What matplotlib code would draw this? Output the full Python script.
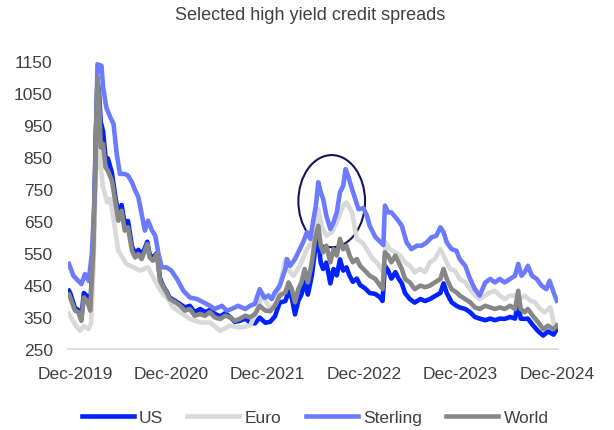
import matplotlib
matplotlib.use("Agg")
import matplotlib.pyplot as plt
from matplotlib.patches import Ellipse

plt.rcParams['font.family'] = ['Liberation Sans', 'DejaVu Sans']

# x positions are months after Dec-2019, values in bp
us_x = [-0.75, -0.6, 0, 0.4, 0.8, 1.1, 1.5, 1.9, 2.3, 2.6, 2.8, 3.0, 3.2, 3.5, 3.8, 4.1, 4.6, 5.0, 5.4, 5.8,
        6.2, 6.6, 7.1, 7.5, 7.9, 8.3, 8.7, 9.0, 9.3, 9.7, 10.2, 10.6, 11.0, 11.4, 11.8, 12.5, 13.1, 13.7, 14.3,
        14.9, 15.6, 16.2, 16.8, 17.4, 18.1, 18.7, 19.3, 19.9, 20.5, 21.2, 21.8, 22.4, 23.0, 23.7, 24.3, 24.9,
        25.5, 26.2, 26.6, 27.0, 27.4, 27.8, 28.2, 28.6, 29.0, 29.5, 29.9, 30.3, 30.6, 30.9, 31.3, 31.8, 32.2,
        32.6, 33.0, 33.4, 33.8, 34.2, 34.6, 35.1, 35.5, 36.1, 36.7, 37.4, 38.0, 38.3, 38.6, 39.0, 39.4, 39.9,
        40.3, 40.7, 41.1, 41.7, 42.3, 43.0, 43.6, 44.2, 44.8, 45.5, 45.9, 46.3, 46.9, 47.5, 47.9, 48.6, 49.2,
        49.8, 50.4, 51.1, 51.7, 52.3, 52.9, 53.5, 54.2, 54.8, 55.2, 55.5, 56.0, 56.4, 57.0, 57.7, 58.3, 58.9,
        59.6, 60.0]
us = [432, 425, 378, 372, 350, 425, 415, 380, 580, 930, 1090, 1050, 960, 930, 850, 845, 800, 730, 670, 700,
      640, 650, 570, 548, 560, 545, 565, 585, 545, 535, 550, 470, 445, 430, 410, 400, 390, 380, 385,
      365, 375, 365, 372, 360, 352, 362, 350, 335, 338, 345, 333, 330, 348, 332, 335, 352,
      395, 400, 430, 410, 358, 400, 420, 460, 420, 480, 560, 590, 520, 500, 520, 455, 500,
      480, 530, 495, 505, 479, 460, 470, 450, 440, 425, 422, 411, 400, 510, 495, 470, 490,
      470, 455, 425, 406, 395, 406, 400, 406, 415, 425, 455, 425, 396, 385, 380, 375, 365,
      350, 345, 340, 345, 340, 345, 344, 350, 345, 400, 345, 344, 345, 325, 305, 292, 305,
      295, 312]

euro_x = [-0.75, -0.4, 0.2, 0.6, 1.1, 1.7, 2.0, 2.3, 2.6, 2.9, 3.2, 3.5, 4.0, 4.4, 4.9, 5.4, 6.4, 7.3, 8.1,
          9.1, 9.6, 10.4, 11.0, 11.6, 12.2, 13.1, 14.3, 15.6, 16.8, 18.1, 19.3, 20.5, 21.8, 22.6, 23.0, 23.4,
          24.3, 25.1, 26.2, 26.8, 27.2, 28.0, 28.9, 29.7, 30.3, 30.7, 31.3, 32.0, 32.6, 33.4, 33.8, 34.5,
          35.1, 35.9, 36.5, 37.1, 37.6, 38.4, 38.7, 39.2, 39.9, 40.5, 41.1, 41.7, 42.3, 43.0, 43.6, 44.2,
          44.8, 45.5, 46.1, 46.7, 47.3, 47.9, 48.6, 49.2, 49.8, 50.4, 51.1, 51.7, 52.3, 52.9, 53.5, 54.2,
          54.8, 55.4, 56.0, 56.7, 57.3, 57.9, 58.5, 59.2, 59.6, 60.0]
euro = [360, 344, 320, 307, 322, 312, 330, 500, 800, 901, 820, 755, 708, 719, 640, 557, 516, 505, 495,
        505, 480, 443, 420, 406, 380, 365, 344, 333, 333, 307, 323, 317, 323, 365, 396, 417,
        375, 396, 531, 490, 479, 510, 562, 594, 687, 635, 604, 615, 646, 698, 708, 677,
        594, 580, 555, 531, 521, 490, 583, 562, 552, 542, 521, 510, 490, 500, 490, 521,
        531, 562, 531, 500, 495, 469, 458, 437, 417, 406, 417, 427, 432, 417, 406, 417,
        417, 406, 417, 401, 396, 375, 365, 380, 333, 323]

sterling_x = [-0.75, -0.2, 0.4, 0.8, 1.25, 1.7, 2.1, 2.5, 2.8, 3.3, 3.5, 3.9, 4.4, 4.8, 5.2, 5.6, 6.2, 6.6,
              7.1, 7.5, 7.9, 8.3, 8.7, 9.1, 9.6, 10.0, 10.4, 10.8, 11.4, 12.0, 12.7, 13.5, 14.3, 15.2, 16.0,
              16.8, 17.4, 18.3, 18.9, 19.5, 20.3, 21.2, 21.8, 22.4, 23.0, 23.6, 24.1, 24.5, 24.9, 25.5, 26.2,
              26.4, 26.8, 27.4, 27.8, 28.4, 28.9, 29.3, 29.7, 30.0, 30.3, 30.6, 30.9, 31.3, 31.8, 32.2, 32.6,
              33.0, 33.4, 33.7, 34.0, 34.5, 34.9, 35.3, 35.9, 36.3, 36.7, 37.4, 38.0, 38.4, 38.6, 39.0, 39.4,
              40.1, 40.7, 41.3, 41.9, 42.6, 43.2, 43.8, 44.4, 45.0, 45.5, 45.9, 46.3, 46.9, 47.5, 47.9, 48.6,
              49.2, 49.8, 50.4, 51.1, 51.7, 52.3, 52.9, 53.5, 54.2, 54.8, 55.2, 55.6, 56.0, 56.4, 56.9, 57.5,
              58.1, 58.7, 59.1, 59.6, 60.0]
sterling = [516, 479, 463, 453, 484, 463, 547, 756, 1140, 1135, 1068, 1005, 974, 953, 859, 797, 797, 792,
            771, 745, 724, 672, 620, 651, 620, 604, 547, 505, 505, 495, 469, 432, 411, 406, 396,
            385, 375, 385, 370, 375, 385, 375, 385, 391, 437, 410, 417, 406, 427, 448, 500,
            531, 510, 531, 552, 583, 615, 594, 656, 698, 771, 740, 719, 667, 625, 646, 677,
            740, 760, 812, 792, 750, 719, 687, 690, 670, 635, 600, 585, 575, 698, 677, 677,
            656, 635, 583, 562, 573, 573, 583, 599, 604, 630, 615, 583, 562, 557, 531, 510,
            469, 437, 417, 458, 469, 458, 469, 458, 469, 479, 516, 479, 490, 510, 479, 469,
            448, 437, 463, 427, 401]

world_x = [-0.75, -0.6, 0, 0.4, 0.8, 1.1, 1.5, 1.9, 2.3, 2.6, 2.8, 3.0, 3.2, 3.5, 3.8, 4.1, 4.6, 5.0, 5.4,
           5.8, 6.2, 6.6, 7.1, 7.5, 7.9, 8.3, 8.7, 9.0, 9.3, 9.7, 10.2, 10.6, 11.0, 11.4, 11.8, 12.5, 13.1,
           13.7, 14.3, 14.9, 15.6, 16.2, 16.8, 17.4, 18.1, 18.7, 19.3, 19.9, 20.5, 21.2, 21.8, 22.4, 23.0,
           23.7, 24.3, 24.9, 25.5, 26.2, 26.6, 27.0, 27.4, 27.8, 28.2, 28.6, 29.0, 29.5, 29.9, 30.3, 30.6,
           30.9, 31.3, 31.8, 32.2, 32.6, 33.0, 33.4, 33.8, 34.2, 34.6, 35.1, 35.5, 36.1, 36.7, 37.4, 38.0,
           38.3, 38.6, 39.0, 39.4, 39.9, 40.3, 40.7, 41.1, 41.7, 42.3, 43.0, 43.6, 44.2, 44.8, 45.5, 45.9,
           46.3, 46.9, 47.5, 47.9, 48.6, 49.2, 49.8, 50.4, 51.1, 51.7, 52.3, 52.9, 53.5, 54.2, 54.8, 55.2,
           55.5, 56.0, 56.4, 57.0, 57.7, 58.3, 58.9, 59.6, 60.0]
world = [420, 411, 370, 365, 338, 411, 401, 370, 568, 911, 1099, 1026, 880, 891, 818, 807, 776, 713, 651,
         682, 620, 630, 557, 536, 547, 531, 557, 578, 536, 526, 547, 463, 443, 427, 406, 396, 385,
         370, 375, 354, 359, 354, 365, 349, 344, 354, 349, 338, 344, 354, 349, 359, 385,
         370, 368, 385, 417, 427, 458, 437, 396, 437, 458, 500, 458, 521, 594, 635, 573,
         552, 573, 521, 562, 542, 594, 562, 573, 542, 521, 531, 510, 495, 479, 469, 448,
         437, 552, 542, 521, 542, 521, 500, 469, 458, 437, 448, 443, 448, 458, 469, 500,
         469, 437, 427, 417, 406, 396, 380, 375, 385, 380, 375, 380, 375, 385, 375, 432,
         375, 365, 375, 354, 333, 312, 323, 312, 323]

tick_pos = [0, 12, 24, 36, 48, 60]
tick_labels = ['Dec-2019', 'Dec-2020', 'Dec-2021', 'Dec-2022', 'Dec-2023', 'Dec-2024']

txt = '#404040'
fig = plt.figure(figsize=(6.14, 4.31), dpi=100)
ax = fig.add_axes([68/614, 81/431, 490/614, 288/431])

lw = 3.3
ax.plot(us_x, us, color='#0022ff', lw=lw, label='US')
ax.plot(euro_x, euro, color='#d9d9d9', lw=lw, label='Euro')
ax.plot(sterling_x, sterling, color='#6b7bff', lw=lw, label='Sterling')
ax.plot(world_x, world, color='#878787', lw=lw, label='World')

# circle round the 2022 peaks
ax.add_patch(Ellipse((31.97, 712), 8.3, 288, fill=False, edgecolor='#14145a', lw=1.5))

ax.set_xlim(-0.87, 60.15)
ax.set_ylim(250, 1150)
ax.set_yticks(range(250, 1151, 100))
ax.set_xticks(tick_pos)
ax.set_xticklabels(tick_labels)
ax.tick_params(axis='both', length=0, labelsize=12.5, colors=txt)
ax.tick_params(axis='y', pad=11)
ax.tick_params(axis='x', pad=12)
for s in ['top', 'right', 'left']:
    ax.spines[s].set_visible(False)
ax.spines['bottom'].set_color('#d9d9d9')
ax.spines['bottom'].set_linewidth(1.2)

fig.suptitle('Selected high yield credit spreads', x=310/614, y=1 - 16/431, va='center',
             fontsize=13, color=txt)

fig.legend(loc='center', bbox_to_anchor=(315/614, 13/431), ncol=4, frameon=False,
           fontsize=12.5, handlelength=3.0, handletextpad=0.3, columnspacing=1.4,
           labelcolor=txt)

fig.savefig('out.png', dpi=100)
